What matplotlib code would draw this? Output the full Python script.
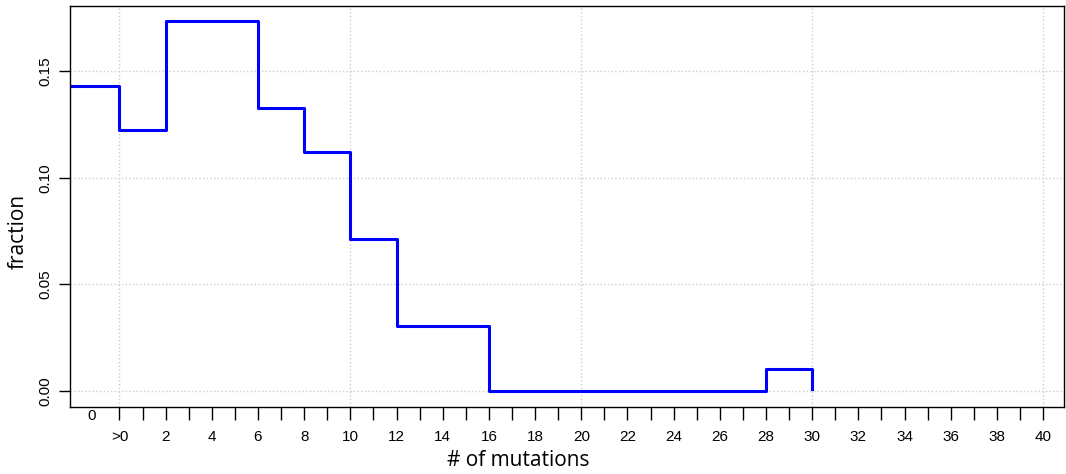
import matplotlib.pyplot as plt
import numpy as np

# bin edges (mutation counts) and fraction per bin
edges = [0, 2, 6, 8, 10, 12, 16, 28, 30]
fraction = [0.1224, 0.1735, 0.1327, 0.1122, 0.0714, 0.0306, 0.0, 0.0102]
frac_zero = 0.1429          # the "0" category, drawn left of ">0"
xticks = list(range(0, 41))
xlabels = [">0"] + [str(t) for t in range(2, 41, 2)]
yticks = [0.0, 0.05, 0.10, 0.15]

xmin, xmax = -2.14, 40.9

fig = plt.figure(figsize=(10.66, 4.74), dpi=100)
ax = fig.add_axes([0.0657, 0.1414, 0.9323, 0.8459])

# step line: "0" bin starts at left border
xs = [xmin] + edges
ys = [frac_zero] + fraction + [0.001]
ax.step(xs, ys, where="post", color="blue", lw=2.2)

# grid (R-style dotted)
for g in [0, 10, 20, 30, 40]:
    ax.axvline(g, color="#cccccc", ls=":", lw=1, zorder=0)
for g in yticks:
    ax.axhline(g, color="#cccccc", ls=":", lw=1, zorder=0)

ax.set_xlim(xmin, xmax)
ax.set_ylim(-0.0075, 0.1805)

ax.set_xticks(xticks)
ax.set_xticklabels([""] * len(xticks))
ax.tick_params(axis="x", length=9, width=1, direction="out")
for t, lab in zip(range(0, 41, 2), xlabels):
    ax.text(t, -0.0218, lab, ha="center", va="center", fontsize=11,
            family="Liberation Sans", clip_on=False)
ax.text(-1.2, -0.0118, "0", ha="center", va="center", fontsize=11,
        family="Liberation Sans", clip_on=False)

ax.set_yticks(yticks)
ax.set_yticklabels(["0.00", "0.05", "0.10", "0.15"], rotation=90, va="center",
                   fontsize=11, family="Liberation Sans")
ax.tick_params(axis="y", length=8, width=1, direction="out", pad=5)

for s in ax.spines.values():
    s.set_linewidth(1)

fig.text(518 / 1066, 1 - 461 / 474, "# of mutations", ha="center", va="center",
         fontsize=15, family="Open Sans")
fig.text(18 / 1066, 1 - 231 / 474, "fraction", ha="center", va="center",
         rotation=90, fontsize=15, family="Open Sans")

fig.savefig("out.png", dpi=100)
